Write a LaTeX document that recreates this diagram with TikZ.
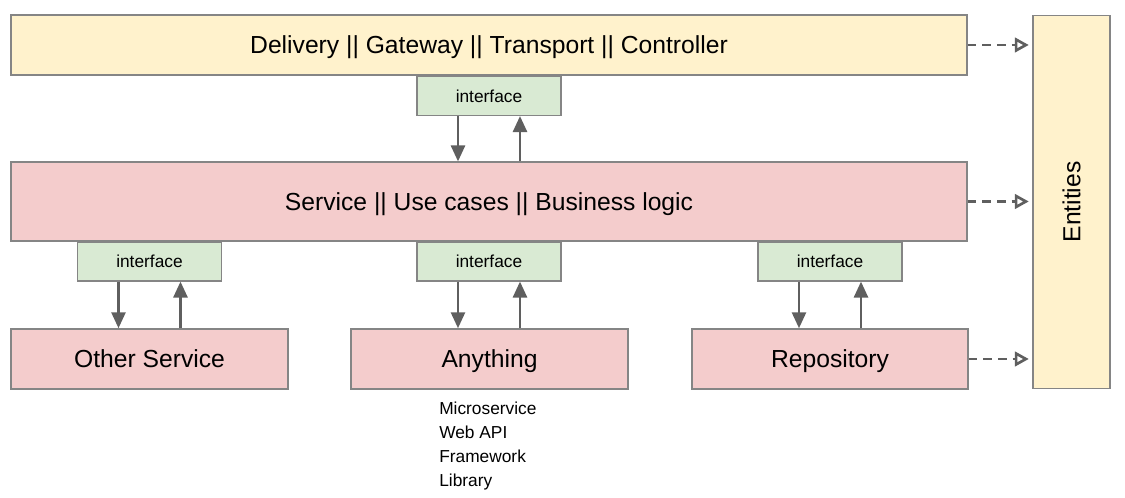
\documentclass[tikz,border=0pt]{standalone}
\usepackage{fontspec}
\setmainfont{Liberation Sans}
\usetikzlibrary{arrows.meta}
\definecolor{yellowfill}{HTML}{FFF2CC}
\definecolor{pinkfill}{HTML}{F4CCCC}
\definecolor{greenfill}{HTML}{D9EAD3}
\definecolor{boxline}{HTML}{858585}
\definecolor{arrowgray}{HTML}{5F5F5F}
\newcommand{\bigfont}{\fontsize{18.5}{22}\selectfont}
\newcommand{\smallfont}{\fontsize{13}{18}\selectfont}

\begin{document}
\begin{tikzpicture}[x=0.75pt, y=-0.75pt,
    layer/.style={draw=boxline, line width=1.1pt, inner sep=0pt, font=\bigfont,
                  text height=13.5pt, text depth=0pt},
    yellowbox/.style={layer, fill=yellowfill},
    pinkbox/.style={layer, fill=pinkfill},
    ifbox/.style={draw=boxline, line width=1.1pt, fill=greenfill, inner sep=0pt,
                  minimum width=108pt, minimum height=29pt, font=\smallfont},
    call/.style={draw=arrowgray, line width=2pt, -{Triangle[length=12pt,width=10.5pt]}},
    uses/.style={draw=arrowgray, line width=2pt, dash pattern=on 6.5pt off 4.5pt,
                 -{Triangle[open,length=10.5pt,width=11pt,line width=2pt]}, shorten >=2.5pt}]
  \useasboundingbox (0, 0) rectangle (1125, 498);

  % layers
  \node[yellowbox, minimum width=717pt, minimum height=45pt] (delivery) at (489, 45)
    {Delivery || Gateway || Transport || Controller};
  \node[pinkbox, minimum width=717pt, minimum height=59pt] (service) at (489, 201.5)
    {Service || Use cases || Business logic};
  \node[yellowbox, minimum width=58pt, minimum height=280pt, text height=, text depth=] (entities) at (1071.5, 202)
    {\rotatebox{90}{Entities}};

  % interfaces
  \node[ifbox] (iftop) at (489, 96) {interface};
  \node[ifbox] (ifother) at (149.5, 261.5) {interface};
  \node[ifbox] (ifany) at (489, 261.5) {interface};
  \node[ifbox] (ifrepo) at (830, 261.5) {interface};

  % outer services
  \node[pinkbox, minimum width=208pt, minimum height=45pt] (other) at (149.5, 359) {Other Service};
  \node[pinkbox, minimum width=208pt, minimum height=45pt] (anything) at (489.5, 359) {Anything};
  \node[pinkbox, minimum width=207pt, minimum height=45pt] (repo) at (830, 359) {Repository};
  \node[anchor=north west, align=left, inner sep=0pt, font=\smallfont] (kinds) at (439, 402)
    {Microservice\\Web API\\Framework\\Library};

  % calls through the interfaces
  \draw[call] ([xshift=-23.25pt]iftop.south) -- ([xshift=-23.25pt]iftop.south |- service.north);
  \draw[call] ([xshift=23.25pt]iftop.south |- service.north) -- ([xshift=23.25pt]iftop.south);
  \foreach \i/\o in {ifother/other, ifany/anything, ifrepo/repo} {
    \draw[call] ([xshift=-23.25pt]\i.south) -- ([xshift=-23.25pt]\i.south |- \o.north);
    \draw[call] ([xshift=23.25pt]\i.south |- \o.north) -- ([xshift=23.25pt]\i.south);
  }

  % dependencies on entities
  \draw[uses] (delivery.east) -- (delivery.east -| entities.west);
  \draw[uses] (service.east) -- (service.east -| entities.west);
  \draw[uses] (repo.east) -- (repo.east -| entities.west);
\end{tikzpicture}
\end{document}
